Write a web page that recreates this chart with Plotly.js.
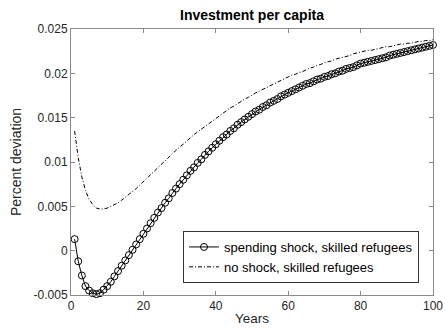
<!DOCTYPE html>
<html><head><meta charset="utf-8">
<script src="https://cdn.plot.ly/plotly-3.0.1.min.js"></script>
<style>html,body{margin:0;padding:0;background:#fff;}#chart{width:445px;height:336px;}</style>
</head><body><div id="chart"></div>
<script>
const years = Array.from({length: 100}, (_, i) => i + 1);
const spendingShock = [
0.0013,-0.0012,-0.0028,-0.0040,-0.0045,-0.0048,-0.0049,-0.0048,-0.0044,-0.0040,
-0.0035,-0.0029,-0.0023,-0.0017,-0.0011,-0.0005,0.0001,0.0007,0.0013,0.0019,
0.0025,0.0031,0.0037,0.0043,0.0048,0.0054,0.0059,0.0065,0.0070,0.0075,
0.0080,0.0085,0.0090,0.0094,0.0099,0.0103,0.0108,0.0112,0.0116,0.0120,
0.0124,0.0128,0.0131,0.0135,0.0138,0.0142,0.0145,0.0148,0.0151,0.0154,
0.0157,0.0159,0.0162,0.0164,0.0167,0.0169,0.0171,0.0174,0.0176,0.0178,
0.0180,0.0182,0.0184,0.0186,0.0188,0.0189,0.0191,0.0193,0.0194,0.0196,
0.0197,0.0199,0.0200,0.0202,0.0203,0.0205,0.0206,0.0207,0.0209,0.0211,
0.0212,0.0213,0.0214,0.0215,0.0216,0.0217,0.0218,0.0220,0.0221,0.0222,
0.0223,0.0224,0.0225,0.0226,0.0227,0.0228,0.0229,0.0230,0.0231,0.0232];
const noShock = [
0.0135,0.0105,0.0083,0.0068,0.0058,0.0052,0.0048,0.0047,0.0047,0.0048,
0.0050,0.0052,0.0054,0.0057,0.0060,0.0063,0.0067,0.0070,0.0074,0.0078,
0.0082,0.0085,0.0089,0.0093,0.0097,0.0101,0.0105,0.0109,0.0113,0.0117,
0.0120,0.0124,0.0127,0.0131,0.0134,0.0137,0.0141,0.0144,0.0147,0.0150,
0.0153,0.0155,0.0158,0.0161,0.0163,0.0166,0.0168,0.0171,0.0173,0.0176,
0.0178,0.0180,0.0182,0.0184,0.0186,0.0188,0.0190,0.0192,0.0194,0.0196,
0.0198,0.0199,0.0201,0.0202,0.0204,0.0206,0.0207,0.0209,0.0210,0.0212,
0.0213,0.0214,0.0216,0.0217,0.0218,0.0219,0.0220,0.0222,0.0223,0.0224,
0.0225,0.0226,0.0226,0.0227,0.0228,0.0229,0.0230,0.0230,0.0231,0.0232,
0.0233,0.0233,0.0234,0.0234,0.0235,0.0236,0.0236,0.0237,0.0237,0.0238];
const xTicks = [0, 20, 40, 60, 80, 100];
const yTicks = [-0.005, 0, 0.005, 0.01, 0.015, 0.02, 0.025];
const yTickText = ['-0.005', '0', '0.005', '0.01', '0.015', '0.02', '0.025'];

const fam = 'Liberation Sans, Arial, sans-serif';
const traces = [
  {x: years, y: spendingShock, type: 'scatter', mode: 'lines+markers', cliponaxis: false,
   name: 'spending shock, skilled refugees',
   line: {color: '#000', width: 1},
   marker: {symbol: 'circle-open', size: 7, color: '#000', line: {width: 1, color: '#000'}}},
  {x: years, y: noShock, type: 'scatter', mode: 'lines', cliponaxis: false,
   name: 'no shock, skilled refugees',
   line: {color: '#000', width: 1, dash: '4px,2px,1px,2px'}}
];
const axisCommon = {showline: true, mirror: 'ticks', linecolor: '#8a8a8a', linewidth: 1,
  ticks: 'inside', ticklen: 4, tickcolor: '#8a8a8a', showgrid: false, zeroline: false,
  tickfont: {family: fam, size: 12, color: '#262626'}};
const layout = {
  width: 445, height: 336,
  margin: {l: 71, r: 12, t: 29, b: 41, pad: 0},
  paper_bgcolor: '#fff', plot_bgcolor: '#fff',
  font: {family: fam, size: 12, color: '#262626'},
  title: {text: '<b>Investment per capita</b>', x: 252 / 445, xanchor: 'center', y: 1 - 15 / 336, yanchor: 'middle',
          font: {family: fam, size: 14, color: '#000'}},
  xaxis: Object.assign({}, axisCommon, {range: [0, 100], tickvals: xTicks,
    title: {text: 'Years', standoff: 1, font: {family: fam, size: 13.5, color: '#262626'}}}),
  yaxis: Object.assign({}, axisCommon, {range: [-0.005, 0.025], tickvals: yTicks, ticktext: yTickText,
    title: {text: 'Percent deviation', standoff: 8, font: {family: fam, size: 14, color: '#262626'}}}),
  legend: {x: (419 - 71) / 362, xanchor: 'right', y: (295 - 283) / 266, yanchor: 'bottom',
    bgcolor: '#fff', bordercolor: '#333', borderwidth: 1,
    font: {family: fam, size: 13, color: '#000'}, tracegroupgap: 0, itemwidth: 30},
  showlegend: true
};
Plotly.newPlot('chart', traces, layout, {staticPlot: true, displayModeBar: false});
</script></body></html>
